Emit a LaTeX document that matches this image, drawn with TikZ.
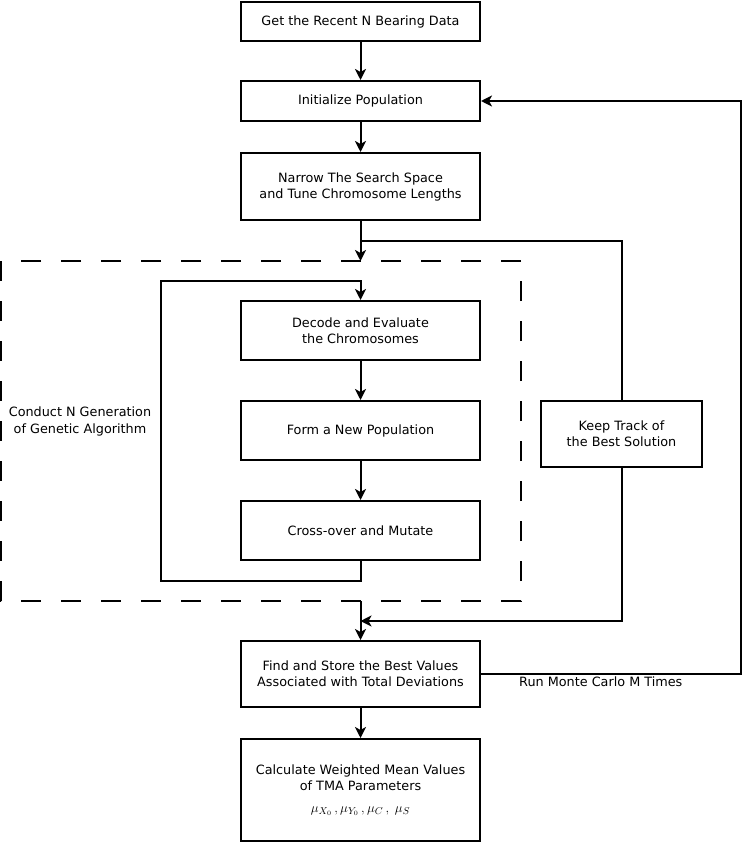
\documentclass[tikz,border=0pt]{standalone}
\usepackage{fontspec}
\usepackage{graphicx}
\setmainfont{DejaVu Sans}
\usetikzlibrary{arrows.meta}
\begin{document}
\begin{tikzpicture}[x=1pt,y=-1pt,
  box/.style={draw,line width=2pt,inner sep=0pt,minimum width=239pt,align=center,font=\fontsize{12.8}{16}\selectfont},
  lbl/.style={align=center,font=\fontsize{12.8}{17}\selectfont,inner sep=0pt},
  conn/.style={line width=2pt},
  arr/.style={conn,-{Stealth[length=11pt,width=11pt,inset=3pt]}}]
\useasboundingbox (0,0) rectangle (742,842);
\node[box,minimum height=39pt] (b1) at (360.5,21.5) {Get the Recent N Bearing Data};
\node[box,minimum height=40pt] (b2) at (360.5,101) {Initialize Population};
\node[box,minimum height=67pt] (b3) at (360.5,186.5) {Narrow The Search Space\\and Tune Chromosome Lengths};
\node[box,minimum height=59pt] (b4) at (360.5,330.5) {Decode and Evaluate\\the Chromosomes};
\node[box,minimum height=59pt] (b5) at (360.5,430.5) {Form a New Population};
\node[box,minimum height=59pt] (b6) at (360.5,530.5) {Cross-over and Mutate};
\node[box,minimum height=66pt] (b7) at (360.5,674) {Find and Store the Best Values\\Associated with Total Deviations};
\node[box,minimum height=102pt] (b8) at (360.5,790) {Calculate Weighted Mean Values\\of TMA Parameters\\[6pt]\scalebox{1.1}{$\mu_{X_0}\,,\mu_{Y_0}\,,\mu_C\,,\;\mu_S$}};
\node[box,minimum width=161pt,minimum height=66pt] (kt) at (621.5,434) {Keep Track of\\the Best Solution};
\node[lbl] (gl) at (80,421) {Conduct N Generation\\of Genetic Algorithm};
\node[lbl,anchor=west] (mc) at (519,682) {Run Monte Carlo M Times};
\draw[conn,dash pattern=on 20pt off 20pt] (1,261) rectangle (521,601);
\coordinate (dtop) at (360.5,261);
\coordinate (br) at (360.5,241);
\coordinate (brr) at (621.5,241);
\coordinate (dbot) at (360.5,601);
\coordinate (ktj) at (360.5,621);
\coordinate (ktc) at (621.5,621);
\coordinate (l1) at (360.5,581);
\coordinate (l2) at (161,581);
\coordinate (l3) at (161,281);
\coordinate (l4) at (360.5,281);
\coordinate (r1) at (741,674);
\coordinate (r2) at (741,101);
\draw[arr] (b1.south) -- (b2.north);
\draw[arr] (b2.south) -- (b3.north);
\draw[arr] (b3.south) -- (dtop);
\draw[conn] (br) -- (brr) -- (kt.north);
\draw[arr] (b6.south) -- (l1) -- (l2) -- (l3) -- (l4) -- (b4.north);
\draw[arr] (b4.south) -- (b5.north);
\draw[arr] (b5.south) -- (b6.north);
\draw[arr] (kt.south) -- (ktc) -- (ktj);
\draw[arr] (dbot) -- (b7.north);
\draw[arr] (b7.east) -- (r1) -- (r2) -- (b2.east);
\draw[arr] (b7.south) -- (b8.north);
\end{tikzpicture}
\end{document}
